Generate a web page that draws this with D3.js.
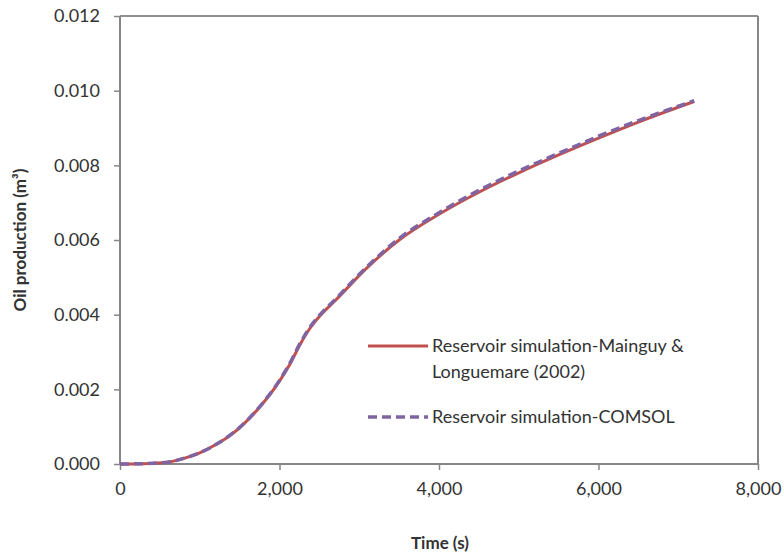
<!DOCTYPE html>
<html>
<head>
<meta charset="utf-8">
<script src="https://cdn.jsdelivr.net/npm/d3@7"></script>
<style>
  body { margin: 0; background: #fff; }
  text { font-family: Lato, "Open Sans", sans-serif; fill: #333; }
</style>
</head>
<body>
<div id="chart"></div>
<script>
// time (s)
var timeRef = [0, 300, 600, 800, 1000, 1250, 1500, 1750, 2000, 2130, 2260, 2380, 2500, 2700, 3100, 3500, 4000, 4500, 5000, 5500, 6000, 6500, 7200];
// Mainguy & Longuemare (2002)
var oilRef = [0, 0.00001, 0.00005, 0.00015, 0.0003, 0.00058, 0.00097, 0.00152, 0.00222, 0.00267, 0.00321, 0.00363, 0.00395, 0.00438, 0.00526, 0.006, 0.00669, 0.00728, 0.0078, 0.00828, 0.00873, 0.00916, 0.00971];
// COMSOL
var oilComsol = [0, 0.00001, 0.00005, 0.00015, 0.0003, 0.00058, 0.00098, 0.00153, 0.00224, 0.0027, 0.00324, 0.00366, 0.00398, 0.00441, 0.00529, 0.00604, 0.00673, 0.00733, 0.00785, 0.00832, 0.00878, 0.0092, 0.00973];
var xTicks = [0, 2000, 4000, 6000, 8000];
var yTicks = [0, 0.002, 0.004, 0.006, 0.008, 0.010, 0.012];
var legendLabels = [["Reservoir simulation-Mainguy &", "Longuemare (2002)"], ["Reservoir simulation-COMSOL"]];

var W = 784, H = 554;
var mLeft = 120, mRight = 758, mTop = 16, mBottom = 464;

var svg = d3.select("#chart").append("svg")
    .attr("width", W)
    .attr("height", H);

var x = d3.scaleLinear().domain([0, 8000]).range([mLeft, mRight]);
var y = d3.scaleLinear().domain([0, 0.012]).range([mBottom, mTop]);

// plot frame
svg.append("line").attr("x1", mLeft).attr("x2", mRight).attr("y1", mTop).attr("y2", mTop)
    .attr("stroke", "#222").attr("stroke-width", 1);
svg.append("line").attr("x1", mRight).attr("x2", mRight).attr("y1", mTop).attr("y2", mBottom)
    .attr("stroke", "#868686").attr("stroke-width", 2);

// axes
var xAxis = svg.append("g").attr("transform", "translate(0," + mBottom + ")")
    .call(d3.axisBottom(x).tickValues(xTicks).tickSize(6).tickPadding(12).tickFormat(d3.format(",")));
var yAxis = svg.append("g").attr("transform", "translate(" + mLeft + ",0)")
    .call(d3.axisLeft(y).tickValues(yTicks).tickSize(6).tickPadding(14).tickFormat(d3.format(".3f")));

[xAxis, yAxis].forEach(function (a) {
    a.select(".domain").attr("stroke", "#868686").attr("stroke-width", 2);
    a.selectAll(".tick line").attr("stroke", "#868686").attr("stroke-width", 1.5);
    a.selectAll(".tick text").style("font-size", "18px").attr("fill", "#333");
});
xAxis.select(".domain").attr("d", "M" + mLeft + ",0H" + mRight);
yAxis.select(".domain").attr("d", "M0," + mTop + "V" + mBottom);

// axis titles
svg.append("text").attr("x", 440).attr("y", 549).attr("text-anchor", "middle")
    .style("font-size", "17px").style("font-weight", "bold").text("Time (s)");
svg.append("text").attr("transform", "translate(26,240) rotate(-90)").attr("text-anchor", "middle")
    .style("font-size", "17px").style("font-weight", "bold").text("Oil production (m³)");

// lines
var line = d3.line()
    .x(function (d) { return x(d[0]); })
    .y(function (d) { return y(d[1]); })
    .curve(d3.curveMonotoneX);

svg.append("path")
    .datum(timeRef.map(function (t, i) { return [t, oilRef[i]]; }))
    .attr("d", line)
    .attr("fill", "none")
    .attr("stroke", "#C0504D")
    .attr("stroke-width", 3);

svg.append("path")
    .datum(timeRef.map(function (t, i) { return [t, oilComsol[i]]; }))
    .attr("d", line)
    .attr("fill", "none")
    .attr("stroke", "#8064A2")
    .attr("stroke-width", 3.5)
    .attr("stroke-dasharray", "9,5");

// legend
var lg = svg.append("g");
lg.append("line").attr("x1", 368).attr("x2", 428).attr("y1", 346).attr("y2", 346)
    .attr("stroke", "#C0504D").attr("stroke-width", 3);
lg.append("line").attr("x1", 368).attr("x2", 428).attr("y1", 417).attr("y2", 417)
    .attr("stroke", "#8064A2").attr("stroke-width", 3.5).attr("stroke-dasharray", "9,5");
var ly = [[352, 378], [423]];
legendLabels.forEach(function (lines, i) {
    lines.forEach(function (s, j) {
        lg.append("text").attr("x", 432).attr("y", ly[i][j])
            .style("font-size", "18px").text(s);
    });
});
</script>
</body>
</html>
